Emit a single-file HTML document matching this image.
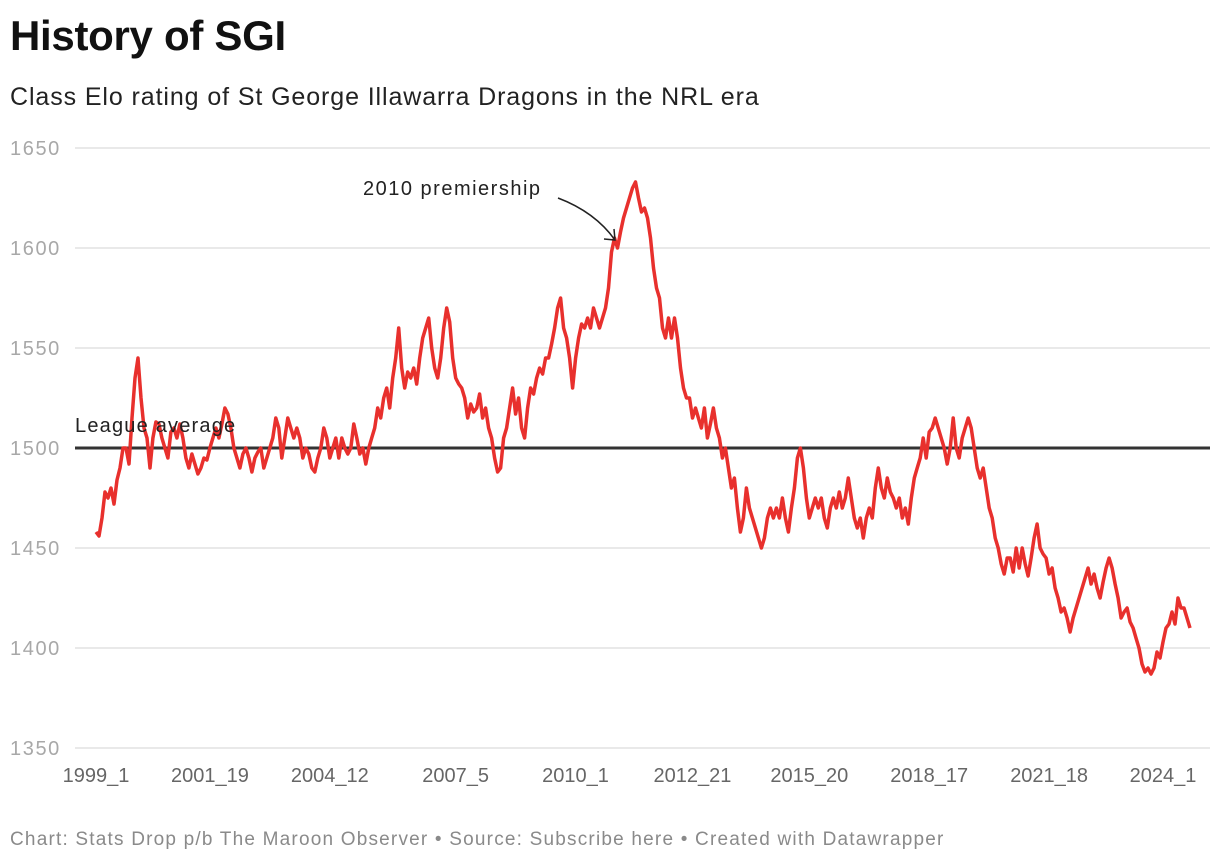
<!DOCTYPE html>
<html><head><meta charset="utf-8"><style>
body{margin:0;background:#fff;font-family:"Liberation Sans",Arial,sans-serif;}
#wrap{position:relative;width:1220px;height:864px;overflow:hidden;}
</style></head><body>
<div id="wrap">
<div style="position:absolute;left:10px;top:12px;font-size:42px;font-weight:bold;color:#111;letter-spacing:-0.3px">History of SGI</div>
<div style="position:absolute;left:10px;top:83px;font-size:25px;color:#222;letter-spacing:0.9px">Class Elo rating of St George Illawarra Dragons in the NRL era</div>
<svg id="chart" width="1220" height="864" style="position:absolute;left:0;top:0"></svg>
<div style="position:absolute;left:10px;top:829px;font-size:19px;color:#8a8a8a;letter-spacing:1.2px">Chart: Stats Drop p/b The Maroon Observer • Source: Subscribe here • Created with Datawrapper</div>
</div>
<script>
const yTicks=[1350,1400,1450,1500,1550,1600,1650];
const tickLabels=["1999_1","2001_19","2004_12","2007_5","2010_1","2012_21","2015_20","2018_17","2021_18","2024_1"];
const tickWeeks=[0,38,78,120,160,199,238,278,318,356];
const leagueAverage=1500;
const elo=[1458,1456,1465,1478,1475,1480,1472,1484,1490,1500,1500,1492,1515,1535,1545,1525,1510,1505,1490,1505,1513,1512,1505,1500,1495,1508,1510,1505,1512,1505,1495,1490,1497,1492,1487,1490,1495,1494,1500,1505,1510,1505,1512,1520,1517,1510,1500,1495,1490,1497,1500,1495,1488,1495,1498,1500,1490,1495,1500,1505,1515,1510,1495,1505,1515,1510,1505,1510,1505,1495,1500,1497,1490,1488,1495,1500,1510,1505,1495,1500,1505,1495,1505,1500,1497,1500,1512,1505,1497,1500,1492,1500,1505,1510,1520,1515,1525,1530,1520,1535,1545,1560,1540,1530,1538,1535,1540,1532,1545,1555,1560,1565,1550,1540,1535,1545,1560,1570,1563,1545,1535,1532,1530,1525,1515,1522,1518,1520,1527,1515,1520,1510,1505,1495,1488,1490,1505,1510,1520,1530,1517,1525,1510,1505,1520,1530,1527,1535,1540,1537,1545,1545,1552,1560,1570,1575,1560,1555,1545,1530,1545,1555,1562,1560,1565,1560,1570,1565,1560,1565,1570,1580,1598,1605,1600,1608,1615,1620,1625,1630,1633,1625,1618,1620,1615,1605,1590,1580,1575,1560,1555,1565,1555,1565,1555,1540,1530,1525,1525,1515,1520,1515,1510,1520,1505,1512,1520,1510,1505,1495,1500,1490,1480,1485,1470,1458,1465,1480,1470,1465,1460,1455,1450,1455,1465,1470,1465,1470,1465,1475,1465,1458,1470,1480,1495,1500,1490,1475,1465,1470,1475,1470,1475,1465,1460,1470,1475,1470,1478,1470,1475,1485,1475,1465,1460,1465,1455,1465,1470,1465,1480,1490,1480,1475,1485,1478,1475,1470,1475,1465,1470,1462,1475,1485,1490,1495,1505,1495,1508,1510,1515,1510,1505,1500,1492,1500,1515,1500,1495,1505,1510,1515,1510,1500,1490,1485,1490,1480,1470,1465,1455,1450,1442,1437,1445,1445,1438,1450,1440,1450,1442,1436,1445,1455,1462,1450,1447,1445,1437,1440,1430,1425,1418,1420,1415,1408,1415,1420,1425,1430,1435,1440,1432,1437,1430,1425,1433,1440,1445,1440,1432,1425,1415,1418,1420,1413,1410,1405,1400,1392,1388,1390,1387,1390,1398,1395,1403,1410,1412,1418,1412,1425,1420,1420,1415,1410];
const svg=document.getElementById('chart');
const NS='http://www.w3.org/2000/svg';
const X0=96,X1=1190,Y0=748,Y1=148;
const xs=i=>X0+(X1-X0)*i/(elo.length-1);
const ys=v=>Y0+(Y1-Y0)*(v-1350)/(1650-1350);
function mk(t,a){const e=document.createElementNS(NS,t);for(const k in a)e.setAttribute(k,a[k]);svg.appendChild(e);return e;}
yTicks.forEach(v=>{
  const l=mk('line',{x1:75,x2:1210,y1:ys(v),y2:ys(v),stroke:'#e2e2e2','stroke-width':1.5});
  
  
  const t=mk('text',{x:10,y:ys(v)+7,'font-size':20,fill:'#a8a8a8','letter-spacing':'1.6'});
  t.textContent=v;
  
  
});
tickLabels.forEach((lab,k)=>{
  const t=mk('text',{x:xs(tickWeeks[k]),y:782,'font-size':20,fill:'#666','text-anchor':'middle'});
  t.textContent=lab;
  
  
});
const avg=mk('line',{x1:75,x2:1210,y1:ys(leagueAverage),y2:ys(leagueAverage),stroke:'#333','stroke-width':3});


let d='';elo.forEach((v,i)=>{d+=(i?'L':'M')+xs(i).toFixed(1)+','+ys(v).toFixed(1);});
const p=mk('path',{d:d,fill:'none',stroke:'#e8302d','stroke-width':3.5,'stroke-linejoin':'round'});


const la=mk('text',{x:75,y:432,'font-size':20,fill:'#222','letter-spacing':'1.2'});
la.textContent='League average';


const an=mk('text',{x:363,y:195,'font-size':20,fill:'#222','letter-spacing':'1.5'});
an.textContent='2010 premiership';


const ar=mk('path',{d:'M558,198 Q595,212 615,240 M604,239 L615,240 L614,229',fill:'none',stroke:'#222','stroke-width':1.5});


</script>
</body></html>
